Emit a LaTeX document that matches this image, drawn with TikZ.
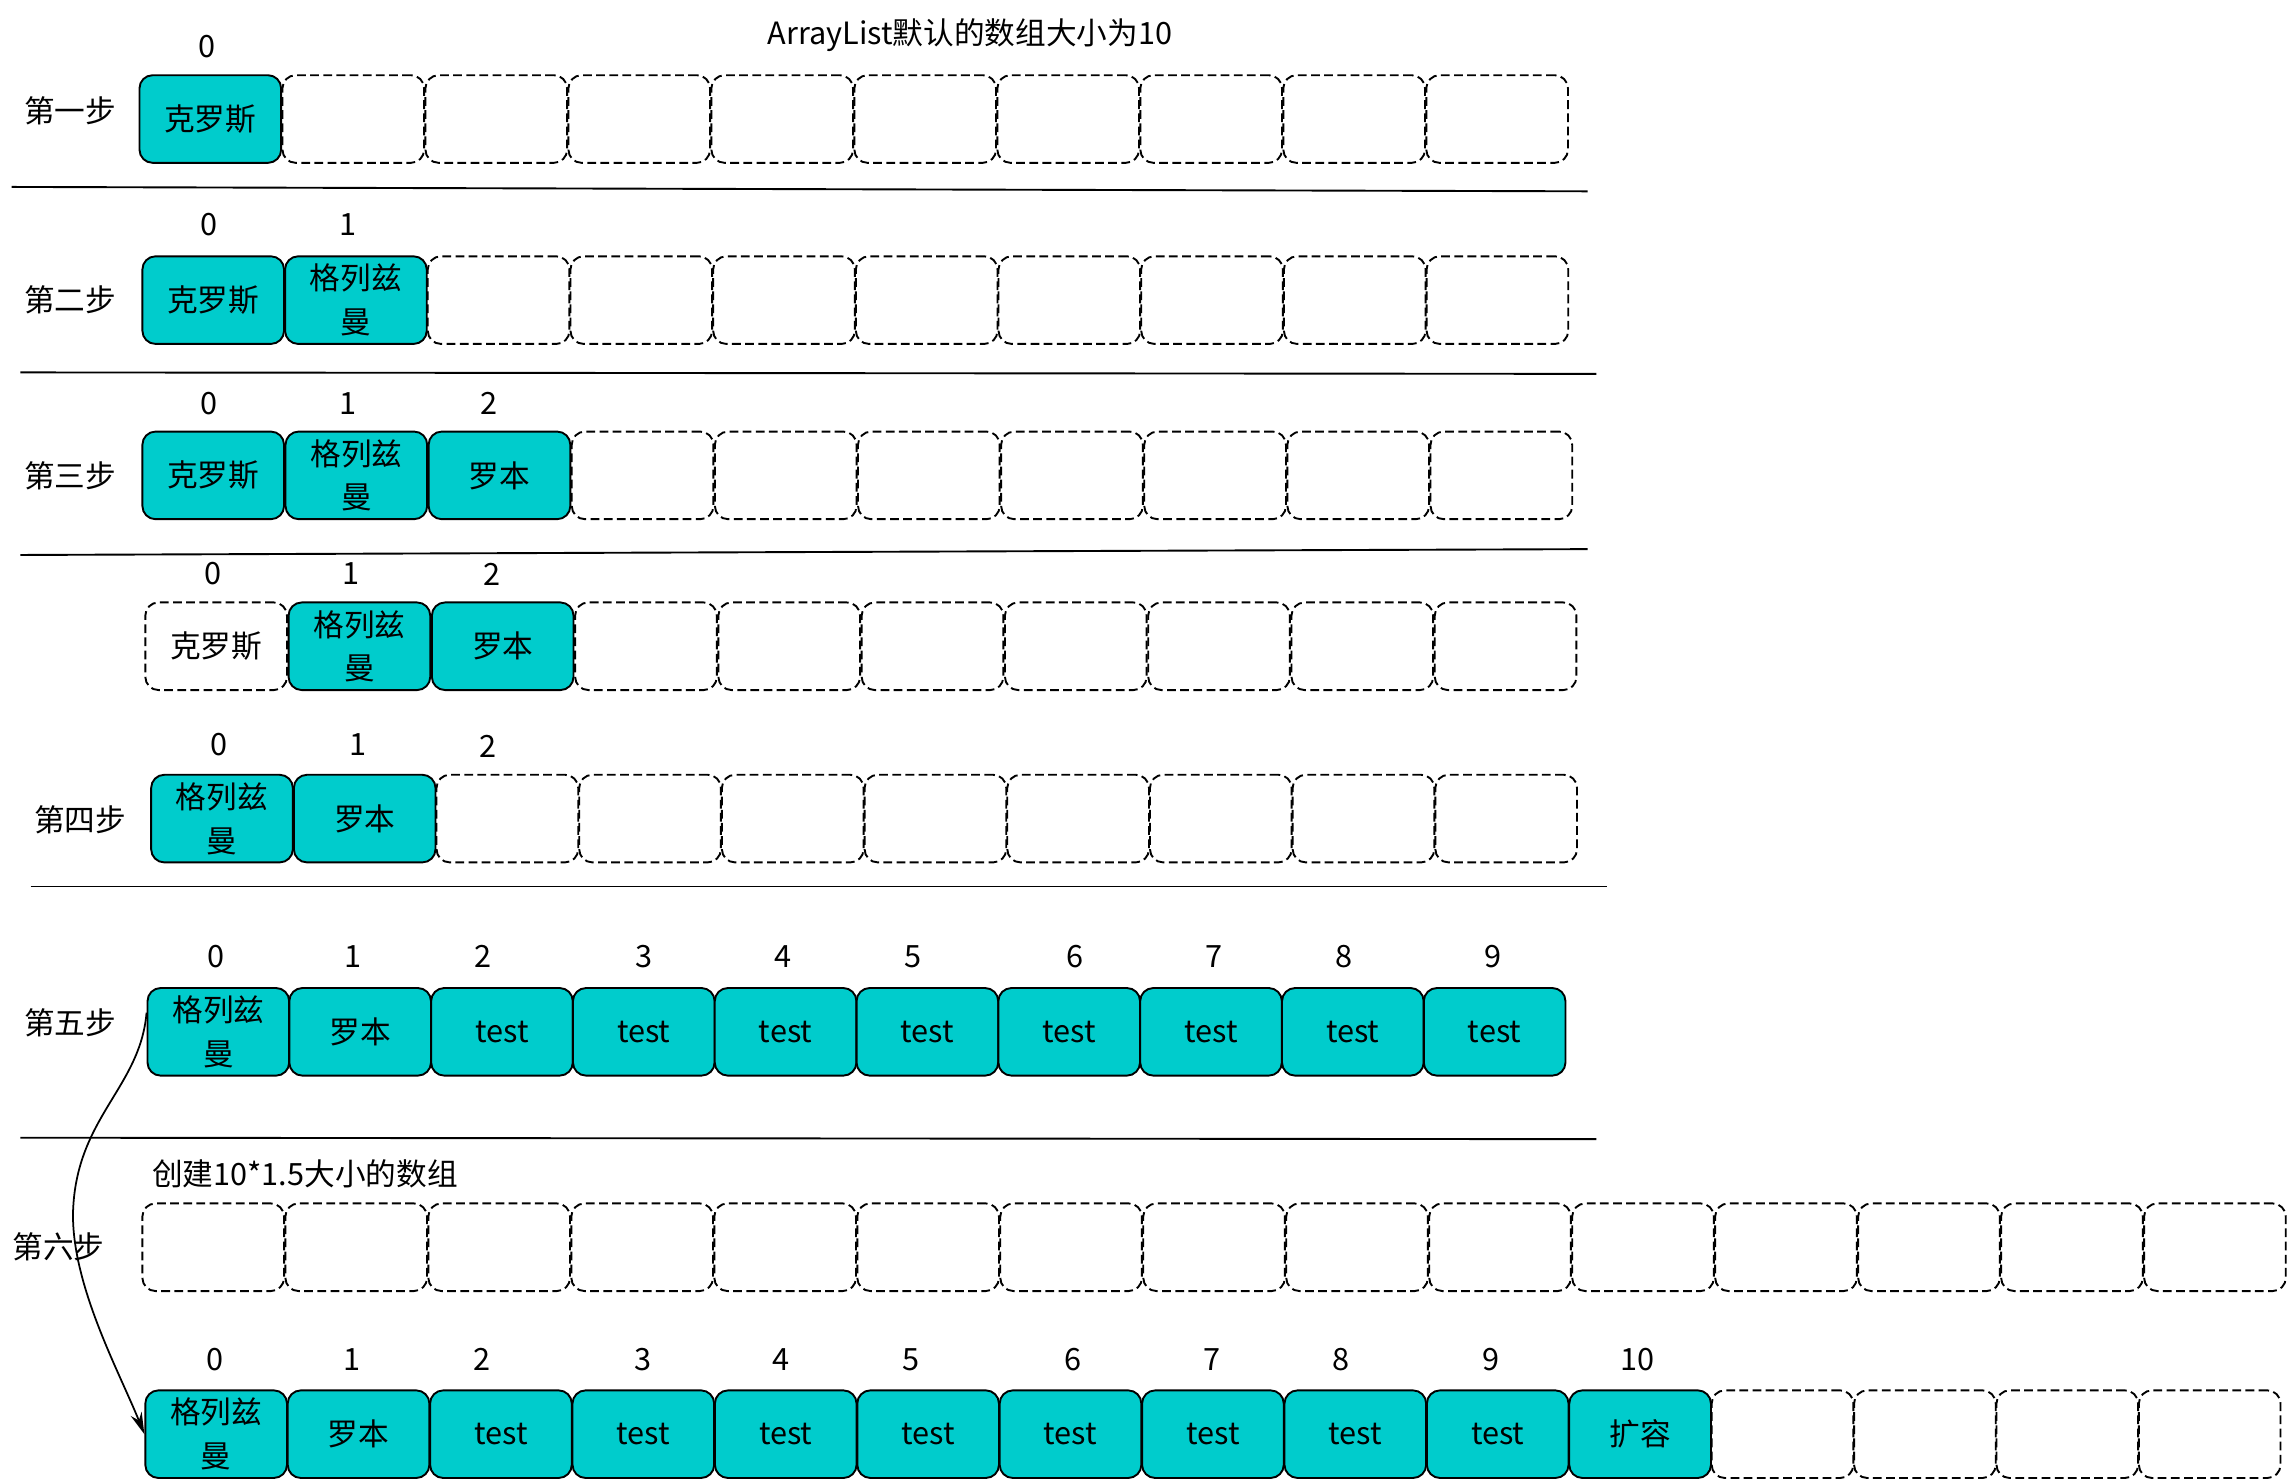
\documentclass[tikz,border=0pt]{standalone}
\usepackage{fontspec}
\setmainfont{Noto Sans CJK SC}
\usetikzlibrary{arrows.meta}
\definecolor{cellcyan}{RGB}{0,204,204}
\newcommand{\cellfont}{\fontsize{21}{30}\selectfont}
\tikzstyle{cell}=[shape=rectangle,
                  rounded corners=9pt,
                  draw=black,
                  fill=cellcyan,
                  line width=1.3pt,
                  minimum width=97pt,
                  minimum height=60pt,
                  inner sep=0pt,
                  align=center,
                  font=\cellfont]
\tikzstyle{emptycell}=[cell,
                       fill=none,
                       line width=1.3pt,
                       dash pattern=on 6pt off 3pt]
\tikzstyle{idx}=[inner sep=0pt, font=\cellfont]
\tikzstyle{divider}=[line width=1.3pt]

\begin{document}
\begin{tikzpicture}[x=1pt,y=-1pt,>={Stealth[length=15pt,width=8pt]}]
\useasboundingbox (0,0) rectangle (1568,1016);

% title
\node[idx] (title) at (664,24) {ArrayList默认的数组大小为10};

% step 1
\node[idx] (l1) at (48,76) {第一步};
\node[idx] (i1n0) at (142,32) {0};
\node[cell] (s1c0) at (144,81.5) {克罗斯};
\foreach \k in {1,...,9}
  \node[emptycell] (s1c\k) at ({144+97.9*\k},81.5) {};
\draw[divider] (8,128) -- (1087,131);

% step 2
\node[idx] (l2) at (48,205) {第二步};
\node[idx] (i2n0) at (143,154) {0};
\node[idx] (i2n1) at (238,154) {1};
\node[cell] (s2c0) at (146,205.5) {克罗斯};
\node[cell] (s2c1) at (243.7,205.5) {格列兹\\曼};
\foreach \k in {2,...,9}
  \node[emptycell] (s2c\k) at ({146+97.7*\k},205.5) {};
\draw[divider] (14,255) -- (1093,256);

% step 3
\node[idx] (l3) at (48,326) {第三步};
\node[idx] (i3n0) at (143,276) {0};
\node[idx] (i3n1) at (238,276) {1};
\node[idx] (i3n2) at (335,276) {2};
\node[cell] (s3c0) at (146,325.5) {克罗斯};
\node[cell] (s3c1) at (244,325.5) {格列兹\\曼};
\node[cell] (s3c2) at (342,325.5) {罗本};
\foreach \k in {3,...,9}
  \node[emptycell] (s3c\k) at ({146+98*\k},325.5) {};
\draw[divider] (14,380) -- (1087,376);

% removing index 0
\node[idx] (imn0) at (146,393) {0};
\node[idx] (imn1) at (240,393) {1};
\node[idx] (imn2) at (337,393) {2};
\node[emptycell] (smc0) at (148,442.5) {克罗斯};
\node[cell] (smc1) at (246.1,442.5) {格列兹\\曼};
\node[cell] (smc2) at (344.2,442.5) {罗本};
\foreach \k in {3,...,9}
  \node[emptycell] (smc\k) at ({148+98.1*\k},442.5) {};

% step 4
\node[idx] (l4) at (55,561) {第四步};
\node[idx] (i4n0) at (150,510) {0};
\node[idx] (i4n1) at (245,510) {1};
\node[idx] (i4n2) at (334,511) {2};
\node[cell] (s4c0) at (152,560.5) {格列兹\\曼};
\node[cell] (s4c1) at (249.7,560.5) {罗本};
\foreach \k in {2,...,9}
  \node[emptycell] (s4c\k) at ({152+97.7*\k},560.5) {};
\draw[divider] (21,607) -- (1100,607);

% step 5
\node[idx] (l5) at (48,700) {第五步};
\foreach \n/\x in {0/148,1/242,2/331,3/441,4/536,5/625,6/736,7/831,8/920,9/1022}
  \node[idx] (i5n\n) at (\x,655) {\n};
\node[cell] (s5c0) at (149.5,706.5) {格列兹\\曼};
\node[cell] (s5c1) at (246.6,706.5) {罗本};
\foreach \k in {2,...,9}
  \node[cell] (s5c\k) at ({149.5+97.1*\k},706.5) {test};
\draw[divider] (14,779) -- (1093,780);

% step 6
\node[idx] (l6) at (40,854) {第六步};
\node[idx, anchor=west] (grow) at (104,804) {创建10*1.5大小的数组};
\foreach \k in {0,...,14}
  \node[emptycell] (s6c\k) at ({146+97.9*\k},854) {};
\foreach \n/\x in {0/147,1/241,2/330,3/440,4/535,5/624,6/735,7/830,8/918,9/1021,10/1121}
  \node[idx] (i7n\n) at (\x,931) {\n};
\node[cell] (s7c0) at (148,982) {格列兹\\曼};
\node[cell] (s7c1) at (245.5,982) {罗本};
\foreach \k in {2,...,9}
  \node[cell] (s7c\k) at ({148+97.5*\k},982) {test};
\node[cell] (s7c10) at (1123,982) {扩容};
\foreach \k in {11,...,14}
  \node[emptycell] (s7c\k) at ({148+97.5*\k},982) {};

% copy
\draw[->, line width=1.2pt] (s5c0.165) .. controls (96,745) and (52,765) .. (50,830)
  .. controls (49,880) and (82,940) .. (s7c0.west);

\end{tikzpicture}
\end{document}
